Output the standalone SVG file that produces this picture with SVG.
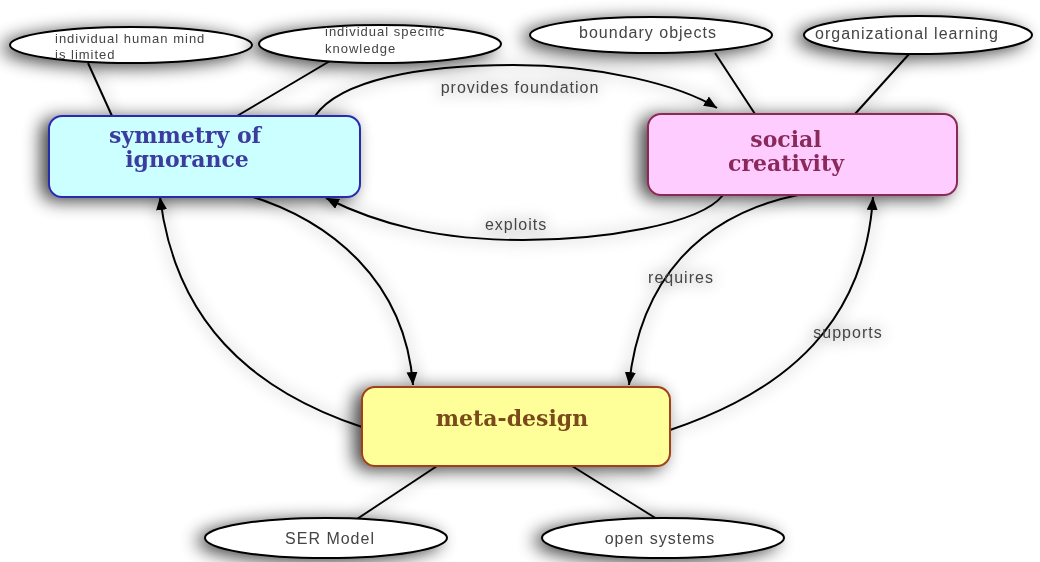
<svg xmlns="http://www.w3.org/2000/svg" width="1040" height="562" viewBox="0 0 1040 562">
<defs>
  <filter id="sh" x="-25%" y="-70%" width="150%" height="240%">
    <feGaussianBlur in="SourceAlpha" stdDeviation="9" result="b"/>
    <feOffset in="b" dx="-7" dy="3" result="o"/>
    <feComponentTransfer in="o" result="s"><feFuncA type="linear" slope="0.75"/></feComponentTransfer>
    <feMerge><feMergeNode in="s"/><feMergeNode in="SourceGraphic"/></feMerge>
  </filter>
  <filter id="lsh" x="-20%" y="-20%" width="140%" height="140%">
    <feGaussianBlur in="SourceAlpha" stdDeviation="8" result="b"/>
    <feComponentTransfer in="b" result="s"><feFuncA type="linear" slope="0.5"/></feComponentTransfer>
    <feMerge><feMergeNode in="s"/><feMergeNode in="SourceGraphic"/></feMerge>
  </filter>
  <marker id="arr" markerUnits="userSpaceOnUse" markerWidth="15" markerHeight="13" refX="13" refY="5.5" orient="auto">
    <path d="M0,0 L13,5.5 L0,11 z" fill="#000"/>
  </marker>
</defs>
<style>
  .box { stroke-width: 2; }
  .ell { fill: #ffffff; stroke: #000; stroke-width: 2; }
  .et { font-family: "Liberation Sans", Arial, sans-serif; fill: #444; font-size: 16px; letter-spacing: 1px; }
  .es { font-family: "Liberation Sans", Arial, sans-serif; fill: #444; font-size: 13px; letter-spacing: 1px; }
  .nt { font-family: "DejaVu Serif", "Liberation Serif", serif; font-weight: bold; font-size: 22px; text-anchor: middle; }
  .c { fill: none; stroke: #000; stroke-width: 2; }
  .lbl { font-family: "Liberation Sans", Arial, sans-serif; fill: #444; font-size: 16px; letter-spacing: 1px; text-anchor: middle; }
</style>
<rect width="1040" height="562" fill="#ffffff"/>

<g id="connectors" filter="url(#lsh)">
  <line class="c" x1="88" y1="63" x2="112" y2="116"/>
  <line class="c" x1="335" y1="58" x2="237" y2="116"/>
  <path class="c" d="M315,116 C340,80 420,65 513,65 C600,65 680,85 717,108" marker-end="url(#arr)"/>
  <line class="c" x1="715" y1="53" x2="755" y2="114"/>
  <line class="c" x1="910" y1="53" x2="855" y2="114"/>
  <path class="c" d="M723,195 C700,225 600,240 523,240 C440,240 380,225 326,198" marker-end="url(#arr)"/>
  <path class="c" d="M247,195 C330,220 405,280 413,385" marker-end="url(#arr)"/>
  <path class="c" d="M362,427 C250,390 175,320 160,197" marker-end="url(#arr)"/>
  <path class="c" d="M798,195 C700,215 640,280 629,385" marker-end="url(#arr)"/>
  <path class="c" d="M670,430 C790,390 865,320 873,197" marker-end="url(#arr)"/>
  <line class="c" x1="437" y1="466" x2="357" y2="519"/>
  <line class="c" x1="572" y1="466" x2="657" y2="519"/>
  <text class="lbl" x="520" y="93">provides foundation</text>
  <text class="lbl" x="516" y="230">exploits</text>
  <text class="lbl" x="681" y="283">requires</text>
  <text class="lbl" x="848" y="338">supports</text>
</g>

<g id="n-mind" filter="url(#sh)">
  <ellipse class="ell" cx="131" cy="45" rx="121" ry="18"/>
  <text class="es" x="55" y="43">individual human mind</text>
  <text class="es" x="55" y="59">is limited</text>
</g>
<g id="n-knowledge" filter="url(#sh)">
  <ellipse class="ell" cx="380" cy="44" rx="121" ry="19"/>
  <text class="es" x="325" y="36">individual specific</text>
  <text class="es" x="325" y="53">knowledge</text>
</g>
<g id="n-boundary" filter="url(#sh)">
  <ellipse class="ell" cx="651" cy="35" rx="121" ry="18"/>
  <text class="et" x="648" y="38" text-anchor="middle">boundary objects</text>
</g>
<g id="n-orglearning" filter="url(#sh)">
  <ellipse class="ell" cx="918" cy="35" rx="114" ry="19"/>
  <text class="et" x="907" y="39" text-anchor="middle">organizational learning</text>
</g>
<g id="n-ser" filter="url(#sh)">
  <ellipse class="ell" cx="326" cy="538" rx="121" ry="20"/>
  <text class="et" x="330" y="544" text-anchor="middle">SER Model</text>
</g>
<g id="n-open" filter="url(#sh)">
  <ellipse class="ell" cx="663" cy="538" rx="121" ry="20"/>
  <text class="et" x="660" y="544" text-anchor="middle">open systems</text>
</g>

<g id="n-symmetry" filter="url(#sh)">
  <rect class="box" x="49" y="116" width="311" height="81" rx="13" fill="#ccffff" stroke="#2a2ab0"/>
  <text class="nt" x="185" y="143" fill="#3a3aa0">symmetry of</text>
  <text class="nt" x="187" y="167" fill="#3a3aa0">ignorance</text>
</g>
<g id="n-social" filter="url(#sh)">
  <rect class="box" x="648" y="114" width="309" height="81" rx="13" fill="#ffccff" stroke="#8a2a55"/>
  <text class="nt" x="786" y="147" fill="#8a2a5a">social</text>
  <text class="nt" x="786" y="171" fill="#8a2a5a">creativity</text>
</g>
<g id="n-meta" filter="url(#sh)">
  <rect class="box" x="362" y="387" width="308" height="79" rx="13" fill="#ffff99" stroke="#a0401a"/>
  <text class="nt" x="512" y="426" fill="#7a4a1a">meta-design</text>
</g>
</svg>
